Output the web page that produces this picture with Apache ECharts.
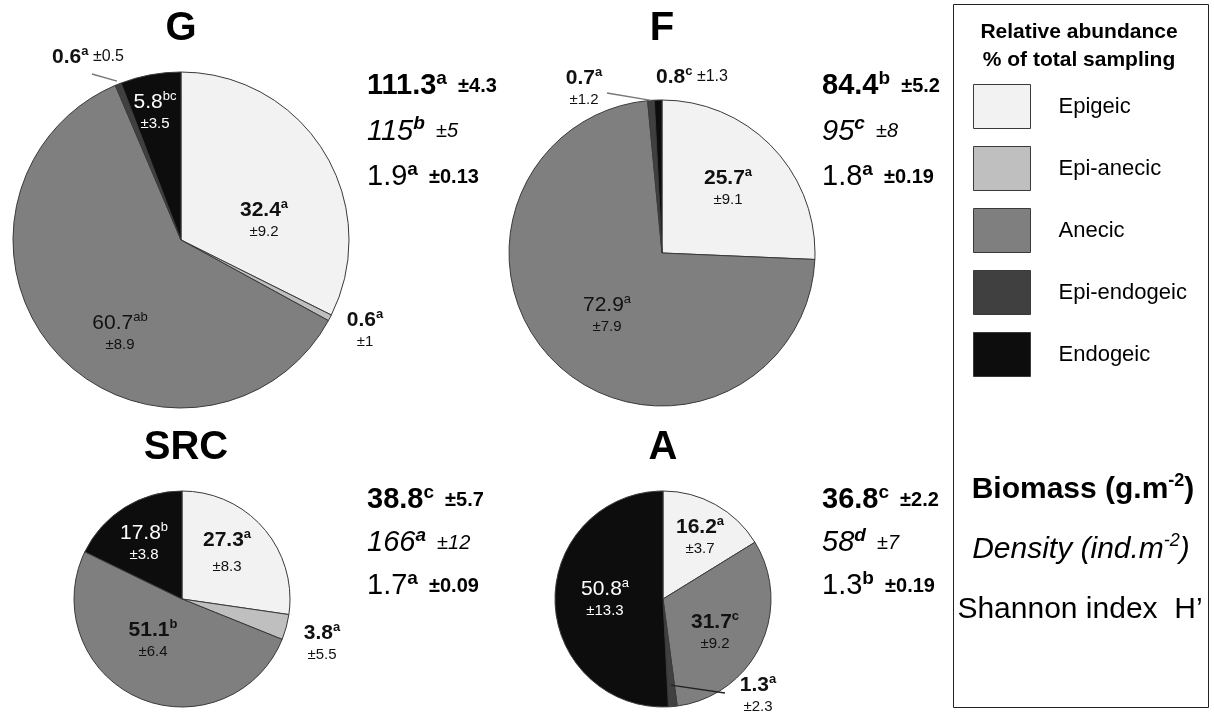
<!DOCTYPE html>
<html><head><meta charset="utf-8">
<script src="https://cdn.jsdelivr.net/npm/echarts@6/dist/echarts.min.js"></script>
<style>html,body{margin:0;padding:0;background:#fff}#c{width:1214px;height:713px}</style>
</head><body><div id="c"></div>
<script>
// ---------- data ----------
const categories = ['Epigeic', 'Epi-anecic', 'Anecic', 'Epi-endogeic', 'Endogeic'];
const sites = ['G', 'F', 'SRC', 'A'];

const pctG = [32.4, 0.6, 60.7, 0.6, 5.8];
const letG = ['a', 'a', 'ab', 'a', 'bc'];
const sdG = ['9.2', '1', '8.9', '0.5', '3.5'];

const pctF = [25.7, null, 72.9, 0.7, 0.8];
const letF = ['a', null, 'a', 'a', 'c'];
const sdF = ['9.1', null, '7.9', '1.2', '1.3'];

const pctSRC = [27.3, 3.8, 51.1, null, 17.8];
const letSRC = ['a', 'a', 'b', null, 'b'];
const sdSRC = ['8.3', '5.5', '6.4', null, '3.8'];

const pctA = [16.2, null, 31.7, 1.3, 50.8];
const letA = ['a', null, 'c', 'a', 'a'];
const sdA = ['3.7', null, '9.2', '2.3', '13.3'];

const biomass = ['111.3', '84.4', '38.8', '36.8'];
const biomassLet = ['a', 'b', 'c', 'c'];
const biomassSd = ['4.3', '5.2', '5.7', '2.2'];
const density = ['115', '95', '166', '58'];
const densityLet = ['b', 'c', 'a', 'd'];
const densitySd = ['5', '8', '12', '7'];
const shannon = ['1.9', '1.8', '1.7', '1.3'];
const shannonLet = ['a', 'a', 'a', 'b'];
const shannonSd = ['0.13', '0.19', '0.09', '0.19'];

// ---------- styles / layout ----------
const colors = ['#f2f2f2', '#bfbfbf', '#7f7f7f', '#404040', '#0d0d0d'];
const pieData = { G: [pctG, letG, sdG], F: [pctF, letF, sdF], SRC: [pctSRC, letSRC, sdSRC], A: [pctA, letA, sdA] };
const pieLayout = {
  G: { center: [181, 240], r: 168, title: [181, 29], stats: [367, 86] },
  F: { center: [662, 253], r: 153, title: [662, 29], stats: [822, 86] },
  SRC: { center: [182, 599], r: 108, title: [186, 448], stats: [367, 500] },
  A: { center: [663, 599], r: 108, title: [663, 448], stats: [822, 500] }
};
// label offset from pie centre, bold, white text, inline sd, second-line height
const labelCfg = {
  G: [{ o: [83, -20], b: 1 }, { o: [184, 90], b: 1 }, { o: [-61, 93], b: 0 }, { o: [-93, -183], b: 1, inline: 1 }, { o: [-26, -128], b: 0, w: 1 }],
  F: [{ o: [66, -65], b: 1 }, null, { o: [-55, 62], b: 0 }, { o: [-78, -165], b: 1 }, { o: [30, -176], b: 1, inline: 1 }],
  SRC: [{ o: [45, -44], b: 1, lh: 30 }, { o: [140, 44], b: 1 }, { o: [-29, 41], b: 1 }, null, { o: [-38, -56], b: 0, w: 1 }],
  A: [{ o: [37, -62], b: 1 }, null, { o: [52, 33], b: 1 }, { o: [95, 96], b: 1 }, { o: [-58, 0], b: 0, w: 1 }]
};
const leaderCfg = [
  { site: 'G', cat: 3, start: [-89, -166], f: 1.02, color: '#777' },
  { site: 'F', cat: 3, start: [-55, -160], f: 1.0, color: '#777' },
  { site: 'A', cat: 3, start: [62, 94], f: 0.8, color: '#222' }
];

const FONT = "'Liberation Sans', Arial, sans-serif";

function labelRich(cfg) {
  const col = cfg.w ? '#ffffff' : '#111111';
  const fw = cfg.b ? 'bold' : 'normal';
  return {
    v: { fontFamily: FONT, fontSize: 21, fontWeight: fw, color: col, lineHeight: 24 },
    s: { fontFamily: FONT, fontSize: 13, fontWeight: fw, color: col, verticalAlign: 'top', lineHeight: 16 },
    e: { fontFamily: FONT, fontSize: 15, fontWeight: 'normal', color: col, lineHeight: cfg.lh || 20 },
    ei: { fontFamily: FONT, fontSize: 16, fontWeight: 'normal', color: col, lineHeight: 24 }
  };
}

const series = sites.map((site) => {
  const [vals, lets, sds] = pieData[site];
  const L = pieLayout[site];
  const data = [];
  vals.forEach((v, i) => {
    if (v == null) return;
    const cfg = labelCfg[site][i];
    const txt = cfg.inline
      ? '{v|' + v + '}{s|' + lets[i] + '}{ei| \u00b1' + sds[i] + '}'
      : '{v|' + v + '}{s|' + lets[i] + '}\n{e|\u00b1' + sds[i] + '}';
    data.push({
      name: categories[i], value: v,
      itemStyle: { color: colors[i] },
      label: { formatter: txt, rich: labelRich(cfg) }
    });
  });
  return {
    type: 'pie', center: L.center, radius: L.r, startAngle: 90, clockwise: true,
    silent: true, animation: false, avoidLabelOverlap: false,
    itemStyle: { borderColor: '#3a3a3a', borderWidth: 1 },
    label: { show: true, position: 'inside' },
    labelLine: { show: false },
    emphasis: { disabled: true },
    labelLayout: function (p) {
      const idx = categories.indexOf(data[p.dataIndex].name);
      const o = labelCfg[site][idx].o;
      return { x: L.center[0] + o[0], y: L.center[1] + o[1], align: 'center', verticalAlign: 'middle' };
    },
    data: data
  };
});

// ---------- graphic elements ----------
const graphic = [];
sites.forEach(site => {
  const t = pieLayout[site].title;
  graphic.push({ type: 'text', x: t[0], y: t[1], z: 100, style: { text: site, font: 'bold 40px ' + FONT, fill: '#000', align: 'center', verticalAlign: 'middle' } });
});
function statRich(italic) {
  return {
    v: { fontFamily: FONT, fontSize: 29, fontWeight: italic ? 'normal' : 'bold', fontStyle: italic ? 'italic' : 'normal', color: '#000', lineHeight: 34 },
    vr: { fontFamily: FONT, fontSize: 29, fontWeight: 'normal', color: '#000', lineHeight: 34 },
    s: { fontFamily: FONT, fontSize: 19, fontWeight: 'bold', fontStyle: italic ? 'italic' : 'normal', color: '#000', verticalAlign: 'top', lineHeight: 22 },
    e: { fontFamily: FONT, fontSize: 20, fontWeight: italic ? 'normal' : 'bold', fontStyle: italic ? 'italic' : 'normal', color: '#000', lineHeight: 34 }
  };
}
sites.forEach((site, i) => {
  const p = pieLayout[site].stats;
  const rows = [
    { t: '{v|' + biomass[i] + '}{s|' + biomassLet[i] + '}{e|  \u00b1' + biomassSd[i] + '}', it: false },
    { t: '{v|' + density[i] + '}{s|' + densityLet[i] + '}{e|  \u00b1' + densitySd[i] + '}', it: true },
    { t: '{vr|' + shannon[i] + '}{s|' + shannonLet[i] + '}{e|  \u00b1' + shannonSd[i] + '}', it: false }
  ];
  const gap = i < 2 ? 45.5 : 43;
  rows.forEach((r, k) => {
    graphic.push({ type: 'text', x: p[0], y: p[1] + k * gap, z: 100, style: { text: r.t, rich: statRich(r.it), align: 'left', verticalAlign: 'middle' } });
  });
});
// leader lines computed from the pie data
leaderCfg.forEach(lc => {
  const vals = pieData[lc.site][0];
  const L = pieLayout[lc.site];
  let total = 0, before = 0;
  vals.forEach((v, i) => { if (v != null) { total += v; if (i < lc.cat) before += v; } });
  const a = (before + vals[lc.cat] / 2) / total * Math.PI * 2;
  const R = L.r * lc.f;
  graphic.push({ type: 'line', z: 100, shape: { x1: L.center[0] + lc.start[0], y1: L.center[1] + lc.start[1], x2: L.center[0] + R * Math.sin(a), y2: L.center[1] - R * Math.cos(a) }, style: { stroke: lc.color, lineWidth: 1.3 } });
});
// legend box
graphic.push({ type: 'rect', z: 100, shape: { x: 953.5, y: 4.5, width: 255, height: 703 }, style: { fill: 'none', stroke: '#222', lineWidth: 1 } });
graphic.push({ type: 'text', z: 100, x: 1079, y: 32, style: { text: 'Relative abundance', font: 'bold 21px ' + FONT, fill: '#000', align: 'center', verticalAlign: 'middle' } });
graphic.push({ type: 'text', z: 100, x: 1079, y: 60, style: { text: '% of total sampling', font: 'bold 21px ' + FONT, fill: '#000', align: 'center', verticalAlign: 'middle' } });
const bottomRich = {
  b: { fontFamily: FONT, fontSize: 30, fontWeight: 'bold', color: '#000', lineHeight: 36 },
  bs: { fontFamily: FONT, fontSize: 18, fontWeight: 'bold', color: '#000', verticalAlign: 'top', lineHeight: 22 },
  i: { fontFamily: FONT, fontSize: 30, fontStyle: 'italic', color: '#000', lineHeight: 36 },
  is: { fontFamily: FONT, fontSize: 18, fontStyle: 'italic', color: '#000', verticalAlign: 'top', lineHeight: 22 },
  r: { fontFamily: FONT, fontSize: 30, color: '#000', lineHeight: 36 }
};
graphic.push({ type: 'text', z: 100, x: 1083, y: 490, style: { text: '{b|Biomass (g.m}{bs|-2}{b|)}', rich: bottomRich, align: 'center', verticalAlign: 'middle' } });
graphic.push({ type: 'text', z: 100, x: 1081, y: 550, style: { text: '{i|Density (ind.m}{is|-2}{i|)}', rich: bottomRich, align: 'center', verticalAlign: 'middle' } });
graphic.push({ type: 'text', z: 100, x: 1080, y: 610, style: { text: "{r|Shannon index  H\u2019}", rich: bottomRich, align: 'center', verticalAlign: 'middle' } });

const chart = echarts.init(document.getElementById('c'), null, { renderer: 'canvas' });
chart.setOption({
  backgroundColor: '#ffffff',
  animation: false,
  legend: {
    data: categories, orient: 'vertical', left: 973, top: 84, padding: 0,
    itemWidth: 57, itemHeight: 44, itemGap: 17, icon: 'rect', selectedMode: false,
    itemStyle: { borderColor: '#3a3a3a', borderWidth: 1 },
    textStyle: { fontFamily: FONT, fontSize: 22, color: '#000', padding: [0, 0, 0, 23] }
  },
  series: series,
  graphic: graphic
});
</script></body></html>
